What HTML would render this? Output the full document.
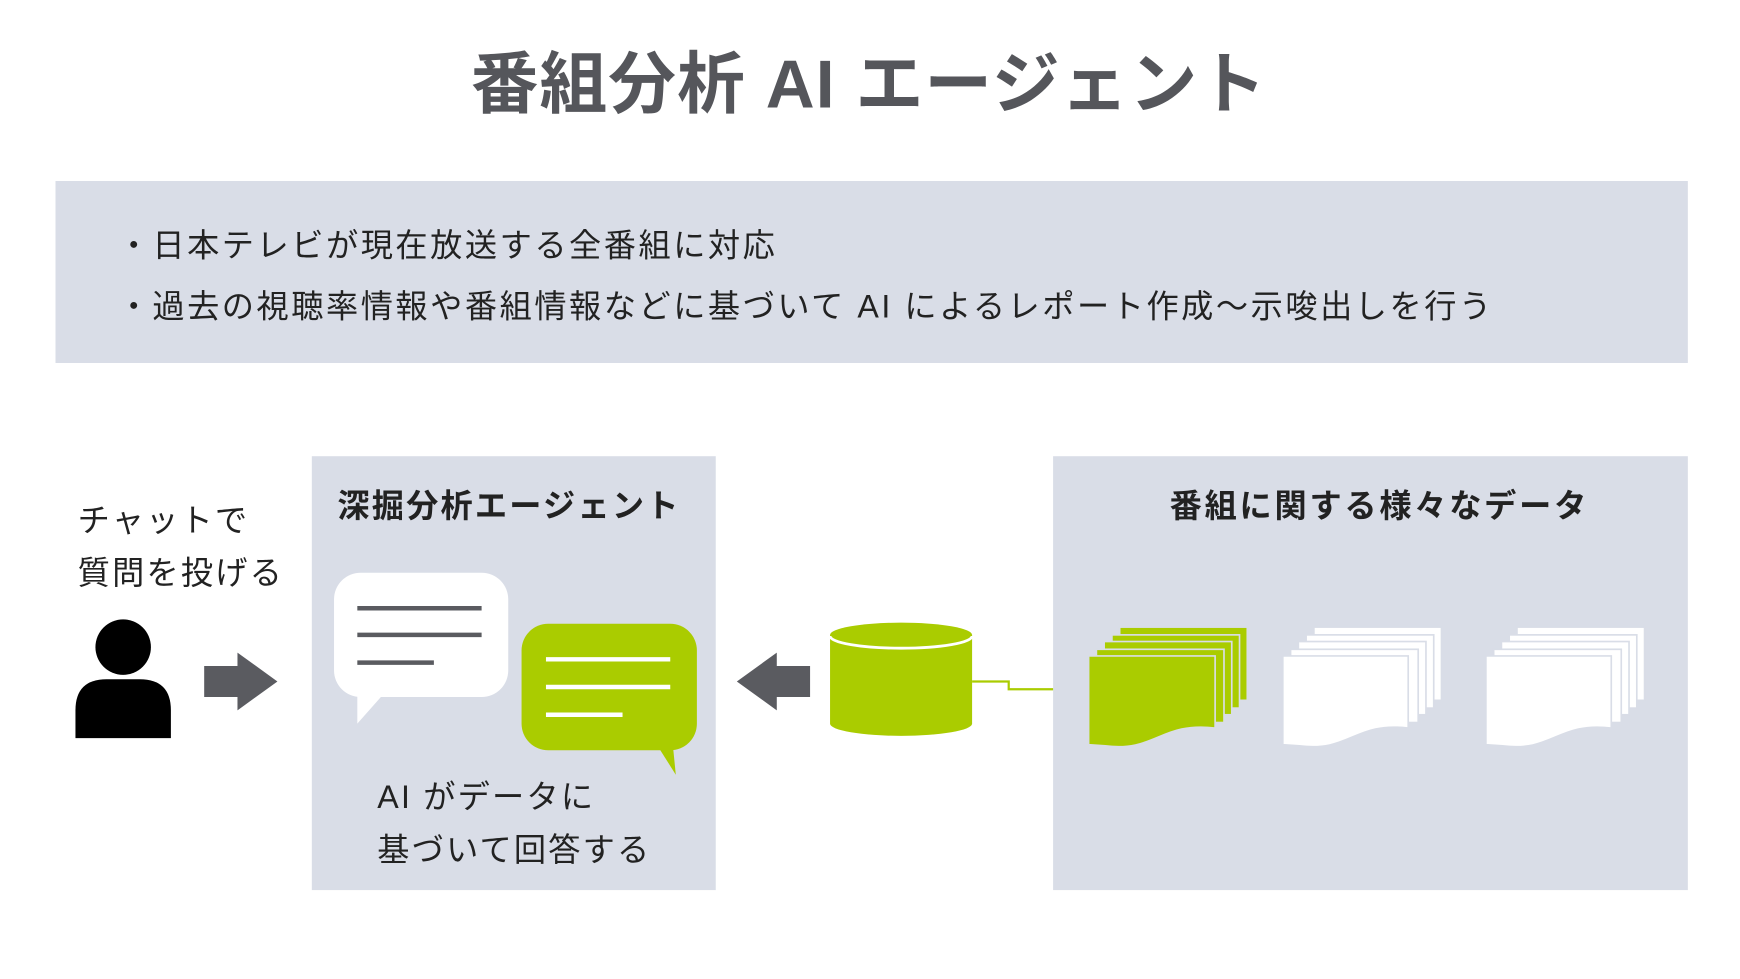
<!DOCTYPE html>
<html><head><meta charset="utf-8"><style>
html,body{margin:0;padding:0;background:#fff;width:1740px;height:979px;overflow:hidden}
svg text{font-family:"Liberation Sans","Noto Sans CJK JP",sans-serif}
</style></head><body>
<svg width="1740" height="979" viewBox="0 0 1568 882" xmlns="http://www.w3.org/2000/svg">
<rect width="1568" height="882" fill="#fff"/>
<text x="783" y="97" text-anchor="middle" font-size="61" font-weight="bold" fill="#55565b" letter-spacing="1">番組分析 AI エージェント</text>
<rect x="50" y="163" width="1471" height="164" fill="#d9dde7"/>
<text x="106" y="231" font-size="29" fill="#222" letter-spacing="2.3">・日本テレビが現在放送する全番組に対応</text>
<text x="106" y="286" font-size="29" fill="#222" letter-spacing="2.3">・過去の視聴率情報や番組情報などに基づいて AI によるレポート作成〜示唆出しを行う</text>
<rect x="281" y="411" width="364" height="391" fill="#d9dde7"/>
<rect x="949" y="411" width="572" height="391" fill="#d9dde7"/>
<text x="70" y="479" font-size="29" fill="#222" letter-spacing="2">チャットで</text>
<text x="70" y="526" font-size="29" fill="#222" letter-spacing="2">質問を投げる</text>
<circle cx="111" cy="583" r="25" fill="#000"/>
<path d="M68 665 V640 Q68 612 96 612 H126 Q154 612 154 640 V665 Z" fill="#000"/>
<path d="M184 600 H214 V588 L250 614 L214 640 V628 H184 Z" fill="#5a5b60"/>
<path d="M730 600 H700 V588 L664 614 L700 640 V628 H730 Z" fill="#5a5b60"/>
<text x="304" y="466" font-size="29" font-weight="bold" fill="#222" letter-spacing="2">深掘分析エージェント</text>
<rect x="301" y="516" width="157" height="112" rx="24" fill="#fff"/>
<path d="M322 620 L322 652 L345 626 Z" fill="#fff"/>
<g stroke="#5a5b60" stroke-width="4"><line x1="322" y1="548" x2="434" y2="548"/><line x1="322" y1="572" x2="434" y2="572"/><line x1="322" y1="597" x2="391" y2="597"/></g>
<rect x="470" y="562" width="158" height="114" rx="24" fill="#aacc00"/>
<path d="M590 668 L609 698 L606 668 Z" fill="#aacc00"/>
<g stroke="#fff" stroke-width="4"><line x1="492" y1="594" x2="604" y2="594"/><line x1="492" y1="619" x2="604" y2="619"/><line x1="492" y1="644" x2="561" y2="644"/></g>
<text x="340" y="728" font-size="29" fill="#222" letter-spacing="2">AI がデータに</text>
<text x="340" y="776" font-size="29" fill="#222" letter-spacing="2">基づいて回答する</text>
<path d="M748 572 V652 A64 11 0 0 0 876 652 V572 Z" fill="#aacc00"/>
<ellipse cx="812" cy="572" rx="64" ry="11" fill="#aacc00"/>
<path d="M748 573 A64 11 0 0 0 876 573" fill="none" stroke="#fff" stroke-width="2.5"/>
<polyline points="876,614 909,614 909,621 949,621" fill="none" stroke="#aacc00" stroke-width="2"/>
<text x="1243" y="466" text-anchor="middle" font-size="29" font-weight="bold" fill="#222" letter-spacing="2.5">番組に関する様々なデータ</text>
<defs>
<g id="sheet"><rect x="0" y="0" width="115" height="66" stroke="#d9dde7" stroke-width="1.5"/></g>
</defs>
<g transform="translate(6,2)">
<g fill="#aacc00">
<use href="#sheet" x="1003" y="563"/><use href="#sheet" x="996" y="570"/><use href="#sheet" x="989" y="576"/><use href="#sheet" x="982" y="583"/>
<path d="M975 589 H1089 V654 C1040 648 1035 676 990 670 L975 669 Z" stroke="#d9dde7" stroke-width="1.5"/>
</g>
<g fill="#fff">
<use href="#sheet" x="1178" y="563"/><use href="#sheet" x="1171" y="570"/><use href="#sheet" x="1164" y="576"/><use href="#sheet" x="1157" y="583"/>
<path d="M1150 589 H1263 V654 C1215 648 1210 676 1165 670 L1150 669 Z" stroke="#d9dde7" stroke-width="1.5"/>
<use href="#sheet" x="1361" y="563"/><use href="#sheet" x="1354" y="570"/><use href="#sheet" x="1347" y="576"/><use href="#sheet" x="1340" y="583"/>
<path d="M1333 589 H1446 V654 C1398 648 1393 676 1348 670 L1333 669 Z" stroke="#d9dde7" stroke-width="1.5"/>
</g>
</g>
</svg>
</body></html>
